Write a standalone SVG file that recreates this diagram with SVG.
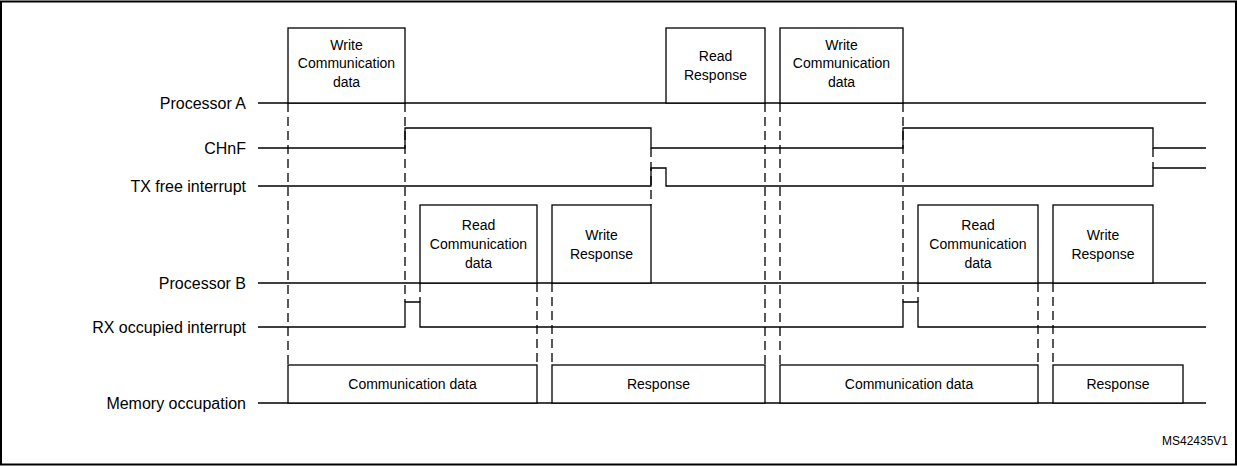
<svg xmlns="http://www.w3.org/2000/svg" width="1237" height="466" viewBox="0 0 1237 466">
<style>
.s{fill:none;stroke:#000;stroke-width:1.3}
.d{fill:none;stroke:#000;stroke-width:1.3;stroke-dasharray:9,5}
.b{fill:#fff;stroke:#000;stroke-width:1.3}
.l{font-family:"Liberation Sans",Arial,sans-serif;font-size:16px;text-anchor:end}
.t{font-family:"Liberation Sans",Arial,sans-serif;font-size:14px;text-anchor:middle}
</style>
<rect x="1" y="1.5" width="1235" height="463" fill="#fff" stroke="#000" stroke-width="2"/>
<g id="labels">
<text class="l" x="246" y="109">Processor A</text>
<text class="l" x="246" y="154">CHnF</text>
<text class="l" x="246" y="192">TX free interrupt</text>
<text class="l" x="246" y="289">Processor B</text>
<text class="l" x="246" y="333">RX occupied interrupt</text>
<text class="l" x="246" y="409">Memory occupation</text>
<text x="1228" y="445" font-family="Liberation Sans,Arial,sans-serif" font-size="12" text-anchor="end">MS42435V1</text>
</g>
<g id="connectors">
<path class="d" d="M288 103V365M405 103V302M420 283V302M537 283V365M552 283V365M651 148V205M765 103V365M780 103V365M903 103V302M918 283V302M1038 283V365M1053 283V365M1153 148V168"/>
<path class="s" d="M258 103H1206"/>
<path class="s" d="M258 148H405V128H651V148H903V128H1153V148H1206"/>
<path class="s" d="M258 186H651V168H666V186H1153V168H1206"/>
<path class="s" d="M258 283H1206"/>
<path class="s" d="M258 327H405V302H420V327H903V302H918V327H1206"/>
<path class="s" d="M258 403H1206"/>
</g>
<g id="procA">
<rect class="b" x="288" y="28" width="117" height="75"/>
<text class="t" x="346.5" y="50">Write</text><text class="t" x="346.5" y="68">Communication</text><text class="t" x="346.5" y="87">data</text>
<rect class="b" x="666" y="28" width="99" height="75"/>
<text class="t" x="715.5" y="61">Read</text><text class="t" x="715.5" y="80">Response</text>
<rect class="b" x="780" y="28" width="123" height="75"/>
<text class="t" x="841.5" y="50">Write</text><text class="t" x="841.5" y="68">Communication</text><text class="t" x="841.5" y="87">data</text>
</g>
<g id="procB">
<rect class="b" x="420" y="205" width="117" height="78"/>
<text class="t" x="478.5" y="230">Read</text><text class="t" x="478.5" y="249">Communication</text><text class="t" x="478.5" y="268">data</text>
<rect class="b" x="552" y="205" width="99" height="78"/>
<text class="t" x="601.5" y="240">Write</text><text class="t" x="601.5" y="259">Response</text>
<rect class="b" x="918" y="205" width="120" height="78"/>
<text class="t" x="978" y="230">Read</text><text class="t" x="978" y="249">Communication</text><text class="t" x="978" y="268">data</text>
<rect class="b" x="1053" y="205" width="100" height="78"/>
<text class="t" x="1103" y="240">Write</text><text class="t" x="1103" y="259">Response</text>
</g>
<g id="memory">
<rect class="b" x="288" y="365" width="249" height="38"/>
<text class="t" x="412.5" y="389">Communication data</text>
<rect class="b" x="552" y="365" width="213" height="38"/>
<text class="t" x="658.5" y="389">Response</text>
<rect class="b" x="780" y="365" width="258" height="38"/>
<text class="t" x="909" y="389">Communication data</text>
<rect class="b" x="1053" y="365" width="130" height="38"/>
<text class="t" x="1118" y="389">Response</text>
</g>
</svg>
